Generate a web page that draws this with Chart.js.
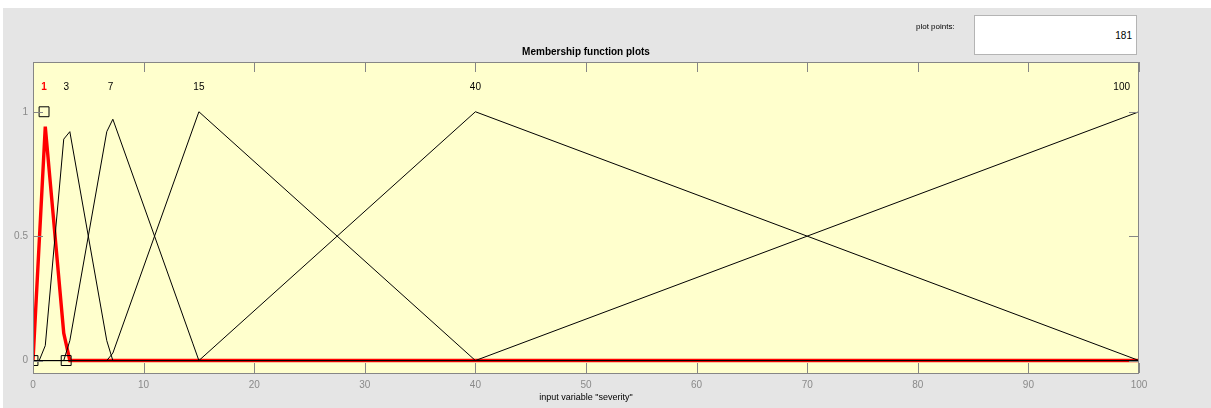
<!DOCTYPE html>
<html>
<head>
<meta charset="utf-8">
<script src="https://cdn.jsdelivr.net/npm/chart.js@4"></script>
<style>
  html, body { margin: 0; padding: 0; background: #ffffff; }
  #wrap { position: relative; width: 1211px; height: 408px; overflow: hidden; }
  canvas { position: absolute; left: 0; top: 0; }
  .txt { position: absolute; font-family: "Liberation Sans", Arial, sans-serif; color: #000; white-space: nowrap; }
  #title { left: 0; width: 1172px; top: 46px; text-align: center; font-weight: bold; font-size: 10px; }
  #xlabel { left: 0; width: 1172px; top: 392px; text-align: center; font-size: 9px; }
  #pplabel { left: 916px; top: 22px; font-size: 8px; }
  #ppbox { position: absolute; left: 974px; top: 15px; width: 163px; height: 40px; background: #fff; border: 1px solid #b4b4b4; box-sizing: border-box; }
  #ppval { right: 4px; top: 14px; font-size: 10px; }
</style>
</head>
<body>
<div id="wrap">
  <canvas id="c" width="1211" height="408"></canvas>
  <div class="txt" id="title">Membership function plots</div>
  <div class="txt" id="xlabel">input variable "severity"</div>
  <div class="txt" id="pplabel">plot points:</div>
  <div id="ppbox"><div class="txt" id="ppval">181</div></div>
</div>
<script>
// Membership function labels and their peak positions
const mfLabels = ['1', '3', '7', '15', '40', '100'];
const mfPeaks  = [1, 3, 7, 15, 40, 100];

// Polyline vertices (x, membership)
const mf1X = [0, 1.11, 2.78, 3.33, 100];
const mf1Y = [0, 0.94, 0.11, 0, 0];
const mf2X = [0, 0.56, 1.11, 2.78, 3.33, 6.67, 7.22, 100];
const mf2Y = [0, 0, 0.06, 0.89, 0.92, 0.08, 0, 0];
const mf3X = [0, 2.78, 3.33, 6.67, 7.22, 14.44, 15, 100];
const mf3Y = [0, 0, 0.08, 0.92, 0.97, 0.07, 0, 0];
const mf4X = [0, 6.67, 7.22, 15, 40, 100];
const mf4Y = [0, 0, 0.03, 1, 0, 0];
const mf5X = [0, 15, 40, 100];
const mf5Y = [0, 0, 1, 0];
const mf6X = [0, 40, 100];
const mf6Y = [0, 0, 1];

// Parameter handles of the selected (red) function
const handleX = [0, 1, 3];
const handleY = [0, 1, 0];

// Axis ticks
const xTicks = [0, 10, 20, 30, 40, 50, 60, 70, 80, 90, 100];
const yTicks = [0, 0.5, 1];

const pts = (xs, ys) => xs.map((x, i) => ({ x, y: ys[i] }));

const blackLine = (xs, ys) => ({
  type: 'line', data: pts(xs, ys), borderColor: '#000', borderWidth: 1,
  pointRadius: 0, tension: 0, fill: false, order: 1
});

const bgPlugin = {
  id: 'bg',
  beforeDraw(chart) {
    const ctx = chart.ctx, a = chart.chartArea;
    ctx.save();
    ctx.fillStyle = '#ffffff';
    ctx.fillRect(0, 0, chart.width, chart.height);
    ctx.fillStyle = '#e5e5e5';
    ctx.fillRect(3, 8, chart.width - 3, chart.height - 8);
    ctx.fillStyle = '#ffffcd';
    ctx.fillRect(a.left, a.top, a.right - a.left, a.bottom - a.top);
    ctx.restore();
  },
  afterDraw(chart) {
    const ctx = chart.ctx, a = chart.chartArea;
    const xs = chart.scales.x, ys = chart.scales.y;
    ctx.save();
    ctx.strokeStyle = '#868686';
    ctx.lineWidth = 1;
    ctx.strokeRect(Math.round(a.left) + 0.5, Math.round(a.top) + 0.5,
                   Math.round(a.right - a.left) - 1, Math.round(a.bottom - a.top));
    ctx.beginPath();
    const tl = 10;
    xTicks.forEach(v => {
      const p = Math.round(xs.getPixelForValue(v)) + 0.5;
      ctx.moveTo(p, a.bottom); ctx.lineTo(p, a.bottom - tl);
      ctx.moveTo(p, a.top); ctx.lineTo(p, a.top + tl);
    });
    yTicks.forEach(v => {
      const p = Math.round(ys.getPixelForValue(v)) + 0.5;
      ctx.moveTo(a.left, p); ctx.lineTo(a.left + tl, p);
      ctx.moveTo(a.right, p); ctx.lineTo(a.right - tl, p);
    });
    ctx.stroke();

    // MF labels above each peak
    ctx.textBaseline = 'middle';
    const ly = ys.getPixelForValue(1.1);
    mfLabels.forEach((lab, i) => {
      const px = xs.getPixelForValue(mfPeaks[i]);
      ctx.fillStyle = i === 0 ? '#ff0000' : '#000000';
      ctx.font = (i === 0 ? 'bold ' : '') + '10px "Liberation Sans", Arial, sans-serif';
      const w = ctx.measureText(lab).width;
      let tx = px;
      if (px + w / 2 > a.right - 4) { ctx.textAlign = 'right'; tx = a.right - 9; }
      else { ctx.textAlign = 'center'; }
      ctx.fillText(lab, tx, ly);
    });
    ctx.restore();
  }
};

new Chart(document.getElementById('c'), {
  type: 'line',
  data: {
    datasets: [
      {
        type: 'scatter', data: pts(handleX, handleY), showLine: false,
        pointStyle: 'rect', pointRadius: 7, pointHoverRadius: 7,
        pointBackgroundColor: 'rgba(0,0,0,0)', pointBorderColor: '#000',
        pointBorderWidth: 1, order: 0
      },
      blackLine(mf2X, mf2Y),
      blackLine(mf3X, mf3Y),
      blackLine(mf4X, mf4Y),
      blackLine(mf5X, mf5Y),
      blackLine(mf6X, mf6Y),
      {
        type: 'line', data: pts(mf1X, mf1Y), borderColor: '#ff0000', borderWidth: 3.4,
        pointRadius: 0, tension: 0, fill: false, order: 2
      }
    ]
  },
  options: {
    responsive: false,
    animation: false,
    events: [],
    layout: { padding: { top: 62, right: 72, left: 0, bottom: 0 } },
    plugins: { legend: { display: false }, tooltip: { enabled: false }, title: { display: false } },
    scales: {
      x: {
        type: 'linear', min: 0, max: 100,
        grid: { display: false, drawTicks: false, tickLength: 0 }, border: { display: false },
        afterBuildTicks: s => { s.ticks = xTicks.map(v => ({ value: v })); },
        afterFit: s => { s.height = 35; },
        ticks: { color: '#8a8a8a', padding: 6, maxRotation: 0, autoSkip: false,
                 font: { family: '"Liberation Sans", Arial, sans-serif', size: 10 } }
      },
      y: {
        type: 'linear', min: -0.05, max: 1.2,
        grid: { display: false, drawTicks: false, tickLength: 0 }, border: { display: false },
        afterBuildTicks: s => { s.ticks = yTicks.map(v => ({ value: v })); },
        afterFit: s => { s.width = 33; },
        ticks: { color: '#8a8a8a', padding: 5,
                 font: { family: '"Liberation Sans", Arial, sans-serif', size: 10 },
                 callback: v => String(v) }
      }
    }
  },
  plugins: [bgPlugin]
});
</script>
</body>
</html>
